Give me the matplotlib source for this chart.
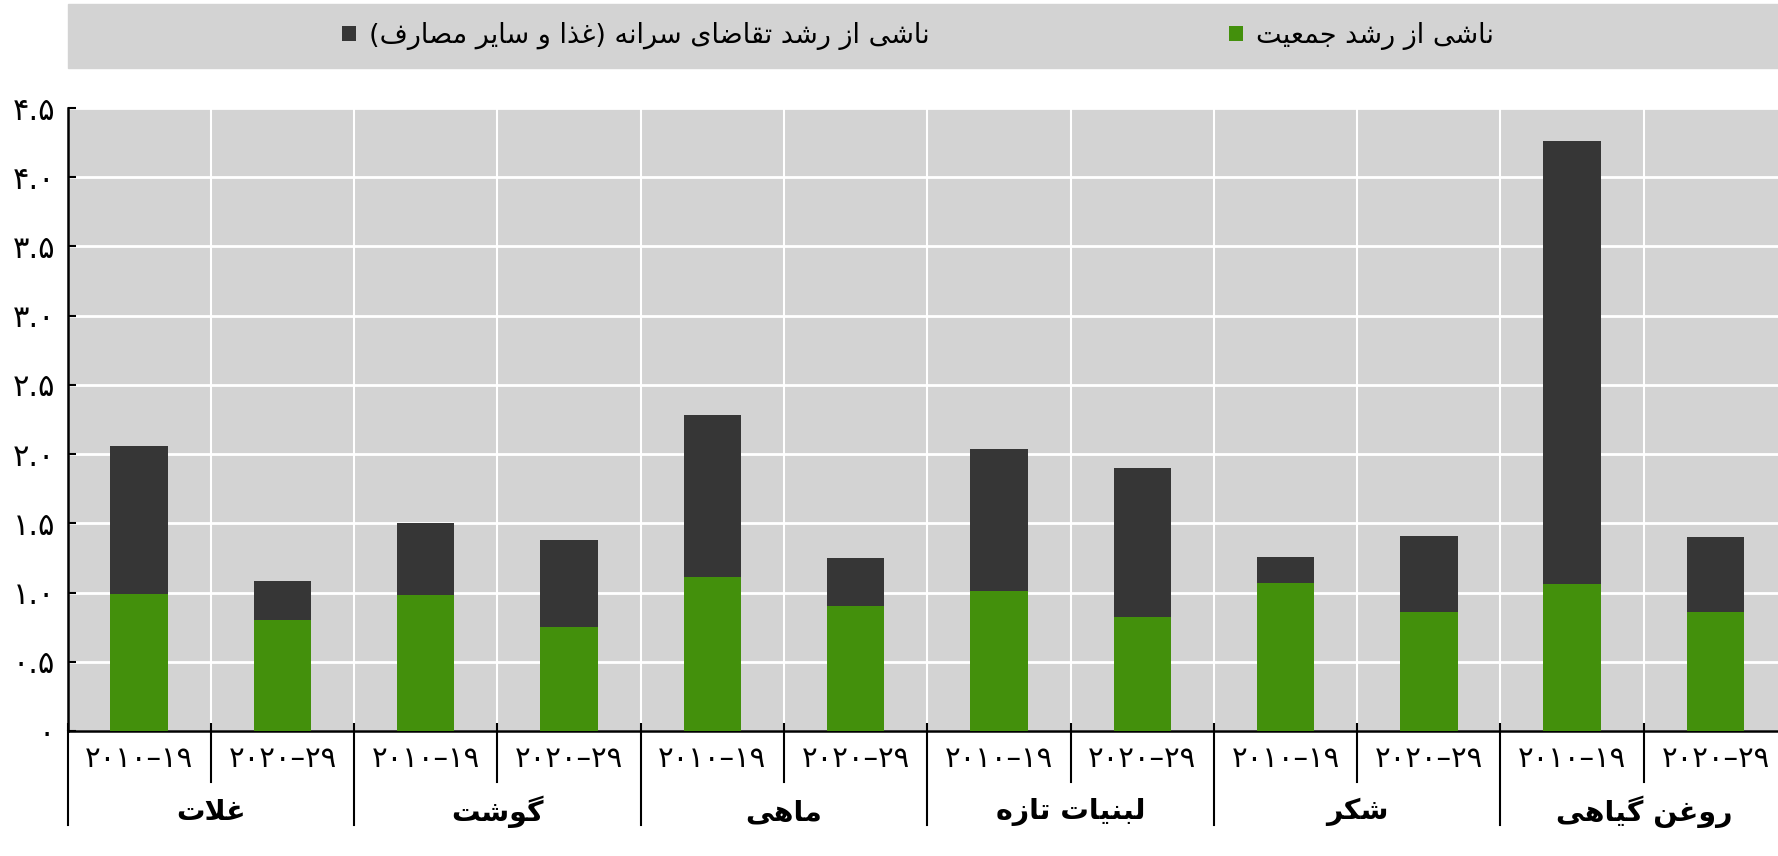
import matplotlib
matplotlib.use('Agg')
import matplotlib.pyplot as plt
from matplotlib.patches import Rectangle
import numpy as np

# Data
groups = ['غلات', 'گوشت', 'ماهی', 'لبنیات تازه', 'شکر', 'روغن گیاهی']
periods = ['۲۰۱۰–۱۹', '۲۰۲۰–۲۹']
population = [0.99, 0.80, 0.98, 0.75, 1.11, 0.90, 1.01, 0.82, 1.07, 0.86, 1.06, 0.86]
per_capita = [1.07, 0.28, 0.52, 0.63, 1.17, 0.35, 1.03, 1.08, 0.19, 0.55, 3.20, 0.54]
y_ticks = [0, 0.5, 1.0, 1.5, 2.0, 2.5, 3.0, 3.5, 4.0, 4.5]
y_labels = ['۰', '۰.۵', '۱.۰', '۱.۵', '۲.۰', '۲.۵', '۳.۰', '۳.۵', '۴.۰', '۴.۵']
label_pop = 'ناشی از رشد جمعیت'
label_cap = 'ناشی از رشد تقاضای سرانه (غذا و سایر مصارف)'

GREEN = '#43900c'
DARK = '#363636'
BG = '#d3d3d3'

# matplotlib does no arabic shaping, so do it by hand:
# (isolated, final, initial, medial)
FORMS = {
    'ا': ('\uFE8D', '\uFE8E', None, None),
    'ب': ('\uFE8F', '\uFE90', '\uFE91', '\uFE92'),
    'ت': ('\uFE95', '\uFE96', '\uFE97', '\uFE98'),
    'ج': ('\uFE9D', '\uFE9E', '\uFE9F', '\uFEA0'),
    'د': ('\uFEA9', '\uFEAA', None, None),
    'ذ': ('\uFEAB', '\uFEAC', None, None),
    'ر': ('\uFEAD', '\uFEAE', None, None),
    'ز': ('\uFEAF', '\uFEB0', None, None),
    'س': ('\uFEB1', '\uFEB2', '\uFEB3', '\uFEB4'),
    'ش': ('\uFEB5', '\uFEB6', '\uFEB7', '\uFEB8'),
    'ص': ('\uFEB9', '\uFEBA', '\uFEBB', '\uFEBC'),
    'ض': ('\uFEBD', '\uFEBE', '\uFEBF', '\uFEC0'),
    'ع': ('\uFEC9', '\uFECA', '\uFECB', '\uFECC'),
    'غ': ('\uFECD', '\uFECE', '\uFECF', '\uFED0'),
    'ف': ('\uFED1', '\uFED2', '\uFED3', '\uFED4'),
    'ق': ('\uFED5', '\uFED6', '\uFED7', '\uFED8'),
    'ک': ('\uFB8E', '\uFB8F', '\uFB90', '\uFB91'),
    'گ': ('\uFB92', '\uFB93', '\uFB94', '\uFB95'),
    'ل': ('\uFEDD', '\uFEDE', '\uFEDF', '\uFEE0'),
    'م': ('\uFEE1', '\uFEE2', '\uFEE3', '\uFEE4'),
    'ن': ('\uFEE5', '\uFEE6', '\uFEE7', '\uFEE8'),
    'ه': ('\uFEE9', '\uFEEA', '\uFEEB', '\uFEEC'),
    'و': ('\uFEED', '\uFEEE', None, None),
    'ی': ('\uFBFC', '\uFBFD', '\uFBFE', '\uFBFF'),
}
MIRROR = {'(': ')', ')': '('}


def rtl(text):
    text = text.replace('ي', 'ی').replace('ك', 'ک')
    out = []
    i = 0
    n = len(text)
    while i < n:
        c = text[i]
        if c not in FORMS:
            out.append(c)
            i += 1
            continue
        prev = text[i - 1] if i > 0 else ''
        nxt = text[i + 1] if i + 1 < n else ''
        join_prev = prev in FORMS and FORMS[prev][2] is not None
        if c == 'ل' and nxt == 'ا':
            out.append('\uFEFC' if join_prev else '\uFEFB')
            i += 2
            continue
        join_next = FORMS[c][2] is not None and nxt in FORMS
        iso, fin, ini, med = FORMS[c]
        if join_prev and join_next:
            out.append(med)
        elif join_prev:
            out.append(fin)
        elif join_next:
            out.append(ini)
        else:
            out.append(iso)
        i += 1
    return ''.join(MIRROR.get(ch, ch) for ch in reversed(out))


plt.rcParams['font.family'] = ['DejaVu Sans']

W, H = 1778, 856
fig = plt.figure(figsize=(W / 100, H / 100), dpi=100)
ax = fig.add_axes([67.5 / W, (H - 731) / H, 1719.6 / W, 623 / H])
ax.set_facecolor(BG)

x = np.arange(len(population))
b1 = ax.bar(x, population, width=0.4, color=GREEN, zorder=3)
b2 = ax.bar(x, per_capita, width=0.4, bottom=population, color=DARK, zorder=3)

ax.set_xlim(-0.5, len(x) - 0.5)
ax.set_ylim(0, 4.5)

# grid: white lines at each 0.5 and at each bar slot boundary
bounds = np.arange(len(x) + 1) - 0.5
ax.set_yticks(y_ticks)
ax.set_yticklabels(y_labels, fontsize=22)
ax.set_xticks(x)
ax.set_xticklabels(periods * len(groups), fontsize=21)
ax.set_xticks(bounds, minor=True)
ax.grid(axis='y', which='major', color='white', linewidth=2, zorder=0)
ax.grid(axis='x', which='minor', color='white', linewidth=1.5, zorder=0)
ax.set_axisbelow(True)

ax.tick_params(axis='y', direction='in', length=6, width=1.5, pad=9)
ax.tick_params(axis='x', which='major', length=0, pad=10)
ax.tick_params(axis='x', which='minor', direction='in', length=6, width=1.5)

for side in ['top', 'right']:
    ax.spines[side].set_visible(False)
for side in ['left', 'bottom']:
    ax.spines[side].set_linewidth(1.8)
    ax.spines[side].set_color('black')

# separators under the axis
trans = ax.get_xaxis_transform()
for k, b in enumerate(bounds):
    depth = 0.151 if k % 2 == 0 else 0.082
    ax.plot([b, b], [0, -depth], transform=trans, color='black',
            linewidth=1.5, clip_on=False)

for g, name in enumerate(groups):
    ax.text(2 * g + 0.5, -0.13, rtl(name), transform=trans, ha='center',
            va='center', fontsize=20.5, fontweight='bold')

# legend band across the top
fig.patches.append(Rectangle((68 / W, 1 - 68 / H), 1, 64 / H,
                             transform=fig.transFigure, color=BG, zorder=0))
fig.legend([b2], [rtl(label_cap)], loc='center right',
           bbox_to_anchor=(930 / W, 1 - 36 / H), frameon=False, fontsize=19.5,
           handlelength=0.5, handleheight=0.5, handletextpad=0.5,
           borderpad=0, borderaxespad=0)
fig.legend([b1], [rtl(label_pop)], loc='center right',
           bbox_to_anchor=(1494 / W, 1 - 36 / H), frameon=False, fontsize=19.5,
           handlelength=0.5, handleheight=0.5, handletextpad=0.5,
           borderpad=0, borderaxespad=0)

fig.savefig('out.png', dpi=100)
